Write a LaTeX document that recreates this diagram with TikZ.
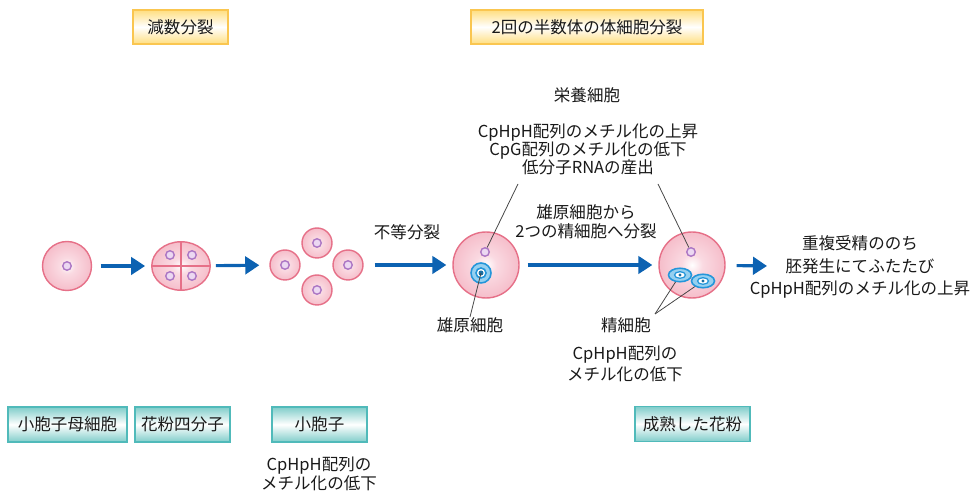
\documentclass[tikz,border=0pt]{standalone}
\usepackage{fontspec}
\newfontfamily\jpfont{Noto Sans CJK JP}
\usetikzlibrary{shapes.geometric, arrows.meta}

\definecolor{cellin}{RGB}{250,218,226}
\definecolor{cellout}{RGB}{242,168,184}
\definecolor{cellline}{RGB}{230,112,136}
\definecolor{nucline}{RGB}{172,118,196}
\definecolor{nucfill}{RGB}{236,216,242}
\definecolor{arrowblue}{RGB}{12,98,178}
\definecolor{spermblue}{RGB}{36,150,218}
\definecolor{spermfill}{RGB}{150,208,240}
\definecolor{boxteal}{RGB}{80,186,186}
\definecolor{tealfill}{RGB}{128,205,202}
\definecolor{boxyellow}{RGB}{250,198,80}
\definecolor{yellowfill}{RGB}{255,222,128}
\definecolor{txtgray}{RGB}{25,25,25}
\definecolor{leadgray}{RGB}{70,70,70}

\pgfdeclareradialshading{cellshade}{\pgfpoint{0bp}{0bp}}{%
  color(0bp)=(white); color(8bp)=(cellin); color(38bp)=(cellout); color(50bp)=(cellout)}

\tikzset{
  txt/.style={font=\jpfont\fontsize{9.4}{10.4}\selectfont, text=txtgray, inner sep=0pt, align=center},
  cell/.style={circle, draw=cellline, line width=0.8pt, shading=cellshade, inner sep=0pt},
  nuc/.style={circle, draw=nucline, line width=0.8pt, fill=nucfill, minimum size=0.17cm, inner sep=0pt},
  flow/.style={-{Triangle[length=8pt, width=10pt]}, line width=1.8pt, arrowblue},
  leader/.style={leadgray, line width=0.45pt},
  stagebox/.style={txt, draw=boxyellow, line width=0.8pt, top color=yellowfill, bottom color=yellowfill, middle color=white, minimum height=0.68cm},
  namebox/.style={txt, draw=boxteal, line width=0.8pt, top color=tealfill, bottom color=tealfill, middle color=white, minimum height=0.7cm},
}

\begin{document}
\begin{tikzpicture}[x=0.02cm, y=-0.02cm]
  \useasboundingbox (0,0) rectangle (971,492);

  % Stage headers
  \node[stagebox, minimum width=1.9cm] (meiosis) at (180.5,27) {減数分裂};
  \node[stagebox, minimum width=4.64cm] (mitosis) at (587,27) {2回の半数体の体細胞分裂};

  % Microspore mother cell
  \node[cell, minimum size=0.98cm] (pmc) at (67,266) {};
  \node[nuc] at (pmc) {};

  % Tetrad
  \node[cell, ellipse, minimum width=1.17cm, minimum height=0.97cm] (tetrad) at (181,266) {};
  \draw[cellline, line width=0.8pt] (tetrad.north) -- (tetrad.south);
  \draw[cellline, line width=0.8pt] (tetrad.west) -- (tetrad.east);
  \foreach \x/\y in {170/255, 192/255, 170/276, 192/276}
    \node[nuc] at (\x,\y) {};

  % Microspores
  \node[cell, minimum size=0.6cm] (msL) at (285,265) {};
  \node[cell, minimum size=0.6cm] (msT) at (317,243) {};
  \node[cell, minimum size=0.6cm] (msB) at (317,290) {};
  \node[cell, minimum size=0.6cm] (msR) at (348,265) {};
  \foreach \m in {msL, msT, msB, msR}
    \node[nuc] at (\m) {};

  % Bicellular pollen
  \node[cell, minimum size=1.32cm] (pol1) at (486,265) {};
  \node[nuc] (vn1) at (485,252) {};
  \node[circle, draw=spermblue, line width=0.9pt, fill=spermfill, minimum size=0.4cm, inner sep=0pt] (gen) at (481,273) {};
  \draw[spermblue, line width=0.9pt, fill=white] (gen) circle (5);
  \fill[spermblue!75!black] (gen) circle (2.5);

  % Mature (tricellular) pollen
  \node[cell, minimum size=1.32cm] (pol2) at (692,265) {};
  \node[nuc] (vn2) at (691,252) {};
  \foreach \s/\x/\y in {sp1/680/275, sp2/703/281} {
    \node[ellipse, draw=spermblue, line width=0.9pt, fill=spermfill, minimum width=0.46cm, minimum height=0.27cm, inner sep=0pt] (\s) at (\x,\y) {};
    \draw[spermblue, line width=0.7pt, fill=white] (\s) ellipse (5.5 and 3.3);
    \fill[spermblue!75!black] (\s) circle (1.6);
  }

  % Flow arrows
  \coordinate (fert) at (767,266);
  \draw[flow, shorten <=0.17cm, shorten >=0.12cm] (pmc) -- (tetrad);
  \draw[flow, shorten <=0.1cm, shorten >=0.2cm] (tetrad) -- (msL);
  \draw[flow, shorten <=0.22cm, shorten >=0.12cm] (msR) -- (pol1);
  \draw[flow, shorten <=0.16cm, shorten >=0.12cm] (pol1) -- (pol2);
  \draw[flow, shorten <=0.22cm] (pol2) -- (fert);

  % Labels along the arrows
  \node[txt] (asym) at (407,232) {不等分裂};
  \node[txt, font=\jpfont\fontsize{9.4}{10.8}\selectfont] (gendiv) at (586,222) {雄原細胞から\\2つの精細胞へ分裂};
  \node[txt, font=\jpfont\fontsize{9.4}{12.8}\selectfont] (after) at (860,267) {重複受精ののち\\胚発生にてふたたび\\CpHpH配列のメチル化の上昇};

  % Vegetative cell notes
  \node[txt] (veg) at (587,95) {栄養細胞};
  \node[txt, font=\jpfont\fontsize{9.4}{10.2}\selectfont] (vegnote) at (588,149) {CpHpH配列のメチル化の上昇\\CpG配列のメチル化の低下\\低分子RNAの産出};
  \coordinate (vegL) at (518,184);
  \coordinate (vegR) at (658,184);
  \draw[leader] (vegL) -- (vn1);
  \draw[leader] (vegR) -- (vn2);

  % Generative and sperm cell notes
  \node[txt] (genlab) at (470,325) {雄原細胞};
  \draw[leader] (gen.center) -- (genlab.north);
  \node[txt] (spermlab) at (626,325) {精細胞};
  \coordinate (spermpt) at (655,314);
  \draw[leader] (spermpt) -- (sp1);
  \draw[leader] (spermpt) -- (sp2);
  \node[txt, font=\jpfont\fontsize{9.4}{12.2}\selectfont] (spermnote) at (625,364) {CpHpH配列の\\メチル化の低下};

  % Stage names
  \node[namebox, minimum width=2.38cm] (pmcname) at (67.5,424.5) {小胞子母細胞};
  \node[namebox, minimum width=1.9cm] (tetname) at (182.5,424.5) {花粉四分子};
  \node[namebox, minimum width=1.9cm] (msname) at (319.5,424.5) {小胞子};
  \node[namebox, minimum width=2.3cm] (polname) at (692.5,424) {成熟した花粉};
  \node[txt, font=\jpfont\fontsize{9.4}{10.8}\selectfont] (msnote) at (319,474) {CpHpH配列の\\メチル化の低下};
\end{tikzpicture}
\end{document}
